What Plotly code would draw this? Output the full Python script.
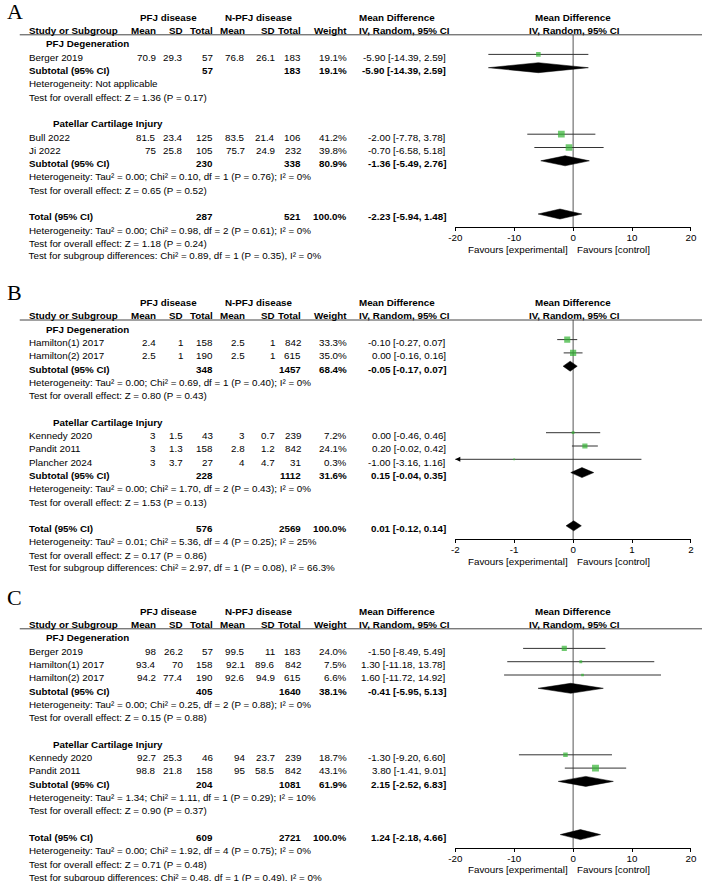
import math
import plotly.graph_objects as go

W, H = 708, 881
SANS = "Liberation Sans, Arial, sans-serif"
SERIF = "Liberation Serif, Times New Roman, serif"
FS = 9.8
GREEN = "#33b433"
CI_COLOR = "#333333"
PITCH = 13.3

# ---------------- Panel A data ----------------
A_groups = ["PFJ Degeneration", "Patellar Cartilage Injury"]
A_study = ["Berger 2019", "Bull 2022", "Ji 2022"]
A_group_of = [0, 1, 1]
A_mean_e = [70.9, 81.5, 75]
A_sd_e = [29.3, 23.4, 25.8]
A_n_e = [57, 125, 105]
A_mean_c = [76.8, 83.5, 75.7]
A_sd_c = [26.1, 21.4, 24.9]
A_n_c = [183, 106, 232]
A_weight = [19.1, 41.2, 39.8]
A_md = [-5.90, -2.00, -0.70]
A_lo = [-14.39, -7.78, -6.58]
A_hi = [2.59, 3.78, 5.18]
A_sub_n_e = [57, 230]
A_sub_n_c = [183, 338]
A_sub_weight = [19.1, 80.9]
A_sub_md = [-5.90, -1.36]
A_sub_lo = [-14.39, -5.49]
A_sub_hi = [2.59, 2.76]
A_sub_het = ["Heterogeneity: Not applicable",
             "Heterogeneity: Tau² = 0.00; Chi² = 0.10, df = 1 (P = 0.76); I² = 0%"]
A_sub_z = ["Test for overall effect: Z = 1.36 (P = 0.17)",
           "Test for overall effect: Z = 0.65 (P = 0.52)"]
A_total = [287, 521, 100.0]
A_total_ci = [-2.23, -5.94, 1.48]
A_total_notes = ["Heterogeneity: Tau² = 0.00; Chi² = 0.98, df = 2 (P = 0.61); I² = 0%",
                 "Test for overall effect: Z = 1.18 (P = 0.24)",
                 "Test for subgroup differences: Chi² = 0.89, df = 1 (P = 0.35), I² = 0%"]
A_ticks = [-20, -10, 0, 10, 20]

# ---------------- Panel B data ----------------
B_groups = ["PFJ Degeneration", "Patellar Cartilage Injury"]
B_study = ["Hamilton(1) 2017", "Hamilton(2) 2017", "Kennedy 2020", "Pandit 2011", "Plancher 2024"]
B_group_of = [0, 0, 1, 1, 1]
B_mean_e = [2.4, 2.5, 3, 3, 3]
B_sd_e = [1, 1, 1.5, 1.3, 3.7]
B_n_e = [158, 190, 43, 158, 27]
B_mean_c = [2.5, 2.5, 3, 2.8, 4]
B_sd_c = [1, 1, 0.7, 1.2, 4.7]
B_n_c = [842, 615, 239, 842, 31]
B_weight = [33.3, 35.0, 7.2, 24.1, 0.3]
B_md = [-0.10, 0.00, 0.00, 0.20, -1.00]
B_lo = [-0.27, -0.16, -0.46, -0.02, -3.16]
B_hi = [0.07, 0.16, 0.46, 0.42, 1.16]
B_sub_n_e = [348, 228]
B_sub_n_c = [1457, 1112]
B_sub_weight = [68.4, 31.6]
B_sub_md = [-0.05, 0.15]
B_sub_lo = [-0.17, -0.04]
B_sub_hi = [0.07, 0.35]
B_sub_het = ["Heterogeneity: Tau² = 0.00; Chi² = 0.69, df = 1 (P = 0.40); I² = 0%",
             "Heterogeneity: Tau² = 0.00; Chi² = 1.70, df = 2 (P = 0.43); I² = 0%"]
B_sub_z = ["Test for overall effect: Z = 0.80 (P = 0.43)",
           "Test for overall effect: Z = 1.53 (P = 0.13)"]
B_total = [576, 2569, 100.0]
B_total_ci = [0.01, -0.12, 0.14]
B_total_notes = ["Heterogeneity: Tau² = 0.01; Chi² = 5.36, df = 4 (P = 0.25); I² = 25%",
                 "Test for overall effect: Z = 0.17 (P = 0.86)",
                 "Test for subgroup differences: Chi² = 2.97, df = 1 (P = 0.08), I² = 66.3%"]
B_ticks = [-2, -1, 0, 1, 2]

# ---------------- Panel C data ----------------
C_groups = ["PFJ Degeneration", "Patellar Cartilage Injury"]
C_study = ["Berger 2019", "Hamilton(1) 2017", "Hamilton(2) 2017", "Kennedy 2020", "Pandit 2011"]
C_group_of = [0, 0, 0, 1, 1]
C_mean_e = [98, 93.4, 94.2, 92.7, 98.8]
C_sd_e = [26.2, 70, 77.4, 25.3, 21.8]
C_n_e = [57, 158, 190, 46, 158]
C_mean_c = [99.5, 92.1, 92.6, 94, 95]
C_sd_c = [11, 89.6, 94.9, 23.7, 58.5]
C_n_c = [183, 842, 615, 239, 842]
C_weight = [24.0, 7.5, 6.6, 18.7, 43.1]
C_md = [-1.50, 1.30, 1.60, -1.30, 3.80]
C_lo = [-8.49, -11.18, -11.72, -9.20, -1.41]
C_hi = [5.49, 13.78, 14.92, 6.60, 9.01]
C_sub_n_e = [405, 204]
C_sub_n_c = [1640, 1081]
C_sub_weight = [38.1, 61.9]
C_sub_md = [-0.41, 2.15]
C_sub_lo = [-5.95, -2.52]
C_sub_hi = [5.13, 6.83]
C_sub_het = ["Heterogeneity: Tau² = 0.00; Chi² = 0.25, df = 2 (P = 0.88); I² = 0%",
             "Heterogeneity: Tau² = 1.34; Chi² = 1.11, df = 1 (P = 0.29); I² = 10%"]
C_sub_z = ["Test for overall effect: Z = 0.15 (P = 0.88)",
           "Test for overall effect: Z = 0.90 (P = 0.37)"]
C_total = [609, 2721, 100.0]
C_total_ci = [1.24, -2.18, 4.66]
C_total_notes = ["Heterogeneity: Tau² = 0.00; Chi² = 1.92, df = 4 (P = 0.75); I² = 0%",
                 "Test for overall effect: Z = 0.71 (P = 0.48)",
                 "Test for subgroup differences: Chi² = 0.48, df = 1 (P = 0.49), I² = 0%"]
C_ticks = [-20, -10, 0, 10, 20]

HEAD1 = ["PFJ disease", "N-PFJ disease", "Mean Difference"]
HEAD2 = ["Study or Subgroup", "Mean", "SD", "Total", "Mean", "SD", "Total", "Weight",
         "IV, Random, 95% CI"]
FAVOURS = ["Favours [experimental]", "Favours [control]"]
KEYS = ["groups", "study", "group_of", "mean_e", "sd_e", "n_e", "mean_c", "sd_c", "n_c",
        "weight", "md", "lo", "hi", "sub_n_e", "sub_n_c", "sub_weight", "sub_md",
        "sub_lo", "sub_hi", "sub_het", "sub_z", "total", "total_ci", "total_notes", "ticks"]


def gather(prefix):
    g = globals()
    d = {k: g[prefix + "_" + k] for k in KEYS}
    d["letter"] = prefix
    return d


panels = [gather("A"), gather("B"), gather("C")]

# ---------------- layout constants (pixels) ----------------
PANEL_TOP = [17.3, 302.5, 611.3]
LETTER_Y = [11.5, 292, 597]
CLIP_LAST = [True, True, False]   # last note line is cropped in panels A and B
STUDY_X = 22
GROUP_X = [40, 46.5]
COL_R = [152, 179, 210, 242, 273, 300, 346]
MD_R = 447
HEAD_MD_X = 359
PLOT_X0, PLOT_X1 = 456.7, 696.7
PLOT_XC = 577

annotations = []
shapes = []
fig = go.Figure()


def text(x, y, s, anchor="left", bold=False, size=FS, family=SANS):
    if bold:
        s = "<b>" + s + "</b>"
    annotations.append(dict(x=x / W, y=y, xref="paper", yref="y", text=s, showarrow=False,
                            xanchor=anchor, yanchor="middle", borderpad=0, borderwidth=0,
                            font=dict(family=family, size=size, color="black")))


def fnum(v):
    return f"{v:g}"


def fci(m, l, h):
    return f"{m:.2f} [{l:.2f}, {h:.2f}]"


clip_axis_count = 0
for pi, P in enumerate(panels):
    T = PANEL_TOP[pi]
    xname = "x" if pi == 0 else f"x{pi + 1}"
    axname = "xaxis" if pi == 0 else f"xaxis{pi + 1}"

    def row(k):
        return T + k * PITCH

    text(0, LETTER_Y[pi], P["letter"], size=22, family=SERIF)
    # headers
    text(165, row(0), HEAD1[0], "center", True)
    text(257, row(0), HEAD1[1], "center", True)
    text(HEAD_MD_X, row(0), HEAD1[2], "left", True)
    text(PLOT_XC, row(0), HEAD1[2], "center", True)
    text(STUDY_X, row(1), HEAD2[0], "left", True)
    for j in range(7):
        text(COL_R[j], row(1), HEAD2[1 + j], "right", True)
    text(HEAD_MD_X, row(1), HEAD2[8], "left", True)
    text(PLOT_XC + 1, row(1), HEAD2[8], "center", True)
    line_y = T + 17.5
    shapes.append(dict(type="line", xref="paper", yref="y", x0=13 / W, x1=1, y0=line_y, y1=line_y,
                       line=dict(color="#444444", width=1)))

    ci_x, ci_y, sq_x, sq_y, sq_s = [], [], [], [], []
    arrows_x, arrows_y = [], []
    diamonds = []
    xmin, xmax = P["ticks"][0], P["ticks"][-1]
    k = 2
    for g, gname in enumerate(P["groups"]):
        text(GROUP_X[g], row(k), gname, "left", True)
        k += 1
        for i, name in enumerate(P["study"]):
            if P["group_of"][i] != g:
                continue
            y = row(k)
            text(STUDY_X, y, name)
            vals = [fnum(P["mean_e"][i]), fnum(P["sd_e"][i]), fnum(P["n_e"][i]),
                    fnum(P["mean_c"][i]), fnum(P["sd_c"][i]), fnum(P["n_c"][i]),
                    f"{P['weight'][i]:.1f}%"]
            for j, v in enumerate(vals):
                text(COL_R[j], y, v, "right")
            text(MD_R, y, fci(P["md"][i], P["lo"][i], P["hi"][i]), "right")
            ym = y - 2.8
            ci_x += [P["lo"][i], P["hi"][i], None]
            ci_y += [ym, ym, None]
            sq_x.append(P["md"][i])
            sq_y.append(ym)
            sq_s.append(max(1.8, 1.05 * math.sqrt(P["weight"][i])))
            if P["lo"][i] < xmin:
                arrows_x.append(xmin)
                arrows_y.append(ym)
            k += 1
        y = row(k)
        text(STUDY_X, y, "Subtotal (95% CI)", "left", True)
        text(COL_R[2], y, fnum(P["sub_n_e"][g]), "right", True)
        text(COL_R[5], y, fnum(P["sub_n_c"][g]), "right", True)
        text(COL_R[6], y, f"{P['sub_weight'][g]:.1f}%", "right", True)
        text(MD_R, y, fci(P["sub_md"][g], P["sub_lo"][g], P["sub_hi"][g]), "right", True)
        diamonds.append((P["sub_lo"][g], P["sub_md"][g], P["sub_hi"][g], y - 2.8))
        k += 1
        text(STUDY_X, row(k), P["sub_het"][g])
        k += 1
        text(STUDY_X, row(k), P["sub_z"][g])
        k += 2
    y = row(k)
    text(STUDY_X, y, "Total (95% CI)", "left", True)
    text(COL_R[2], y, fnum(P["total"][0]), "right", True)
    text(COL_R[5], y, fnum(P["total"][1]), "right", True)
    text(COL_R[6], y, f"{P['total'][2]:.1f}%", "right", True)
    m, l, h = P["total_ci"]
    text(MD_R, y, fci(m, l, h), "right", True)
    diamonds.append((l, m, h, y - 2.8))
    axis_y = y + 10.5
    notes = P["total_notes"]
    for n, note in enumerate(notes):
        yy = row(k + 1 + n)
        if n == len(notes) - 1 and CLIP_LAST[pi]:
            # the reference crops this line at its baseline: draw it clipped
            clip_axis_count += 1
            clip_y = yy + 3.9
            yname = f"y{clip_axis_count + 1}"
            fig.layout[f"yaxis{clip_axis_count + 1}"] = dict(
                domain=[1 - clip_y / H, 1], range=[clip_y, 0], visible=False,
                fixedrange=True, anchor="x4")
            fig.add_trace(go.Scatter(x=[STUDY_X], y=[yy], mode="text", text=[note],
                                     textposition="middle right", cliponaxis=True,
                                     marker=dict(size=0),
                                     textfont=dict(family=SANS, size=FS, color="black"),
                                     xaxis="x4", yaxis=yname, hoverinfo="skip",
                                     showlegend=False))
        else:
            text(STUDY_X, yy, note)

    # favours labels
    text(571, axis_y + 22, FAVOURS[0], "right")
    text(581, axis_y + 22, FAVOURS[1], "left")

    # zero line
    shapes.append(dict(type="line", xref=xname, yref="y", x0=0, x1=0, y0=line_y, y1=axis_y,
                       layer="below", line=dict(color="#555555", width=1)))

    fig.add_trace(go.Scatter(x=ci_x, y=ci_y, mode="lines", xaxis=xname, yaxis="y",
                             line=dict(color=CI_COLOR, width=1), hoverinfo="skip",
                             showlegend=False))
    fig.add_trace(go.Scatter(x=sq_x, y=sq_y, mode="markers", xaxis=xname, yaxis="y",
                             marker=dict(symbol="square", size=sq_s, color=GREEN,
                                         line=dict(width=0)),
                             hoverinfo="skip", showlegend=False))
    if arrows_x:
        fig.add_trace(go.Scatter(x=arrows_x, y=arrows_y, mode="markers", xaxis=xname, yaxis="y",
                                 cliponaxis=False,
                                 marker=dict(symbol="arrow-left", size=5, color="black",
                                             line=dict(width=0)),
                                 hoverinfo="skip", showlegend=False))
    for (l, m, h, yc) in diamonds:
        fig.add_trace(go.Scatter(x=[l, m, h, m, l], y=[yc, yc - 5, yc, yc + 5, yc],
                                 mode="lines", fill="toself", fillcolor="black",
                                 line=dict(color="black", width=0.5), xaxis=xname, yaxis="y",
                                 hoverinfo="skip", showlegend=False))

    fig.layout[axname] = dict(
        domain=[PLOT_X0 / W, PLOT_X1 / W], range=[xmin, xmax], anchor="free",
        position=1 - axis_y / H, showline=True, linecolor="black", linewidth=1,
        ticks="outside", ticklen=3, tickwidth=1, tickcolor="black",
        tickvals=P["ticks"], ticktext=[fnum(t) for t in P["ticks"]],
        tickfont=dict(family=SANS, size=FS, color="black"), ticklabelstandoff=-2,
        showgrid=False, zeroline=False, fixedrange=True)

fig.update_layout(
    width=W, height=H, margin=dict(l=0, r=0, t=0, b=0),
    paper_bgcolor="white", plot_bgcolor="rgba(0,0,0,0)",
    yaxis=dict(domain=[0, 1], range=[H, 0], visible=False, fixedrange=True),
    xaxis4=dict(domain=[0, 1], range=[0, W], visible=False, fixedrange=True, anchor="y2"),
    annotations=annotations, shapes=shapes, showlegend=False,
)

fig.write_html("out.html", config={"displayModeBar": False},
               post_script="document.body.style.margin='0';")
